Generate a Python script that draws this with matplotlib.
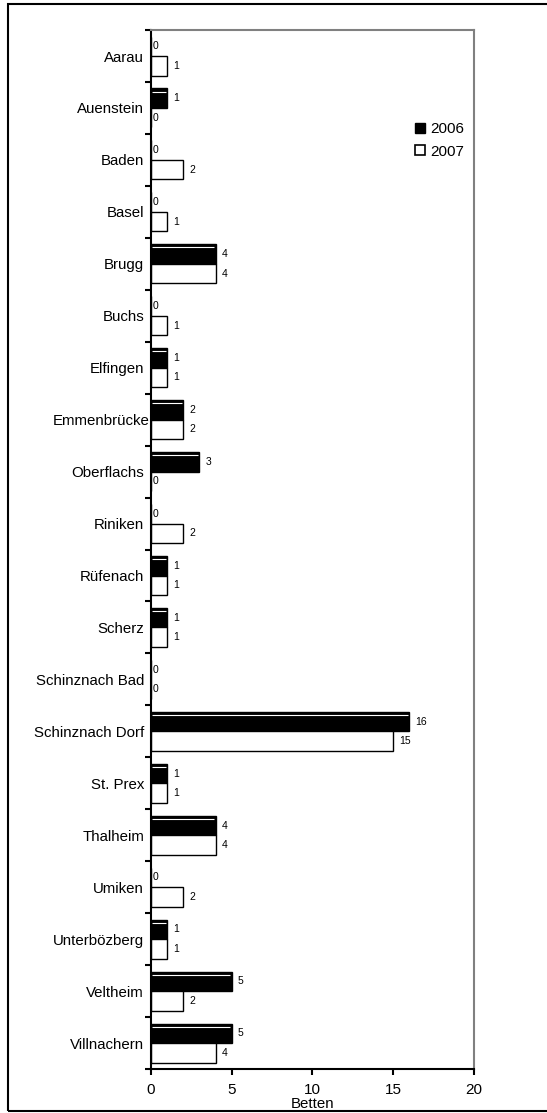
import numpy as np
import matplotlib.pyplot as plt
import matplotlib.transforms as mtransforms
from matplotlib.patches import Patch, Rectangle

plt.rcParams['font.family'] = ['Liberation Sans', 'DejaVu Sans']

orte = ["Aarau", "Auenstein", "Baden", "Basel", "Brugg", "Buchs", "Elfingen",
        "Emmenbrücke", "Oberflachs", "Riniken", "Rüfenach", "Scherz",
        "Schinznach Bad", "Schinznach Dorf", "St. Prex", "Thalheim", "Umiken",
        "Unterbözberg", "Veltheim", "Villnachern"]
betten_2006 = [0, 1, 0, 0, 4, 0, 1, 2, 3, 0, 1, 1, 0, 16, 1, 4, 0, 1, 5, 5]
betten_2007 = [1, 0, 2, 1, 4, 1, 1, 2, 0, 2, 1, 1, 0, 15, 1, 4, 2, 1, 2, 4]
x_ticks = [0, 5, 10, 15, 20]

fig = plt.figure(figsize=(5.47, 11.13), dpi=100)
ax = fig.add_axes([0.276, 0.0395, 0.5905, 0.9335])

y = np.arange(len(orte))
h = 0.375

b06 = ax.barh(y - h / 2, betten_2006, height=h, color='black',
              edgecolor='black', linewidth=1.0, label='2006')
b07 = ax.barh(y + h / 2, betten_2007, height=h, color='white',
              edgecolor='black', linewidth=1.0, label='2007')

# white highlight line inside the filled bars
for yi, v in zip(y, betten_2006):
    if v > 0:
        ax.plot([0.08, v - 0.08], [yi - h + 0.06, yi - h + 0.06],
                color='white', lw=0.8, solid_capstyle='butt')

for bars, vals in ((b06, betten_2006), (b07, betten_2007)):
    for bar, v in zip(bars, vals):
        off = 2 if v == 0 else 6
        ax.annotate(str(v), (v, bar.get_y() + bar.get_height() / 2),
                    xytext=(off * 0.72, 0), textcoords='offset points',
                    ha='left', va='center', fontsize=7.5)

ax.set_xlim(0, 20)
ax.set_ylim(len(orte) - 0.5, -0.5)
ax.set_xticks(x_ticks)
ax.set_yticks(y)
ax.set_yticklabels(orte, fontsize=10.8)
ax.set_yticks(np.arange(len(orte) + 1) - 0.5, minor=True)
ax.tick_params(axis='y', which='major', length=0, pad=5)
ax.tick_params(axis='y', which='minor', length=4, width=1.5, direction='out')
ax.tick_params(axis='x', length=4, width=1.5, direction='out', labelsize=11, pad=6)
ax.set_xlabel("Betten", fontsize=10.8, labelpad=0)

# the long label sits right against the axis
for lbl in ax.get_yticklabels():
    if lbl.get_text() == "Emmenbrücke":
        lbl.set_transform(lbl.get_transform() +
                          mtransforms.ScaledTranslation(6 / 100, 0, fig.dpi_scale_trans))

for s in ('left', 'bottom'):
    ax.spines[s].set_linewidth(1.5)
for s in ('top', 'right'):
    ax.spines[s].set_color('#808080')
    ax.spines[s].set_linewidth(1.5)

handles = [Patch(facecolor='black', edgecolor='black', label='2006'),
           Patch(facecolor='white', edgecolor='black', lw=1.2, label='2007')]
leg = ax.legend(handles=handles, loc='upper right',
                bbox_to_anchor=(476 / 547, 1 - 110 / 1113),
                bbox_transform=fig.transFigure, fontsize=11,
                handlelength=0.65, handleheight=0.65, handletextpad=0.3,
                labelspacing=0.55, borderpad=0.3, fancybox=False)
leg.get_frame().set_edgecolor('none')
leg.get_frame().set_facecolor('white')
leg.get_frame().set_alpha(1)

# outer frame of the chart area
fig.patches.append(Rectangle((8 / 547, 2 / 1113), 1.0, 1 - 6 / 1113,
                             transform=fig.transFigure, fill=False,
                             edgecolor='black', linewidth=1.5))

plt.savefig('out.png', dpi=100)
